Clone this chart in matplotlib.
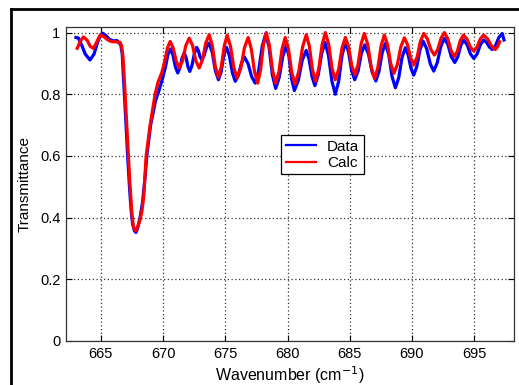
import matplotlib
matplotlib.use("Agg")
import matplotlib.pyplot as plt
from matplotlib.lines import Line2D

plt.rcParams['font.family'] = ['Liberation Sans', 'DejaVu Sans']

data_wn = [663.0, 663.2, 663.45, 663.75, 664.13, 664.45, 664.75, 665.0, 665.15, 665.4,
           665.7, 666.0, 666.3, 666.5, 666.6, 666.72, 666.82, 666.92, 667.05, 667.18,
           667.3, 667.42, 667.55, 667.7, 667.82, 667.95, 668.15, 668.35, 668.55, 668.72,
           669.0, 669.4, 669.66, 669.95, 670.2, 670.4, 670.6,
           670.79, 670.99, 671.18, 671.35, 671.53, 671.7, 671.85, 672.0, 672.15, 672.33,
           672.52, 672.7, 672.83, 672.97, 673.1, 673.3, 673.5, 673.7, 673.95, 674.2,
           674.45, 674.67, 674.88, 675.1, 675.33, 675.57, 675.8, 676.05, 676.3, 676.55,
           676.83, 677.12, 677.4, 677.68, 677.97, 678.25, 678.52, 678.78, 679.05, 679.33,
           679.62, 679.9, 680.12, 680.33, 680.55, 680.87, 681.18, 681.5, 681.73, 681.97,
           682.2, 682.47, 682.75, 683.02, 683.29, 683.57, 683.84, 684.11, 684.38, 684.65,
           684.9, 685.15, 685.4, 685.67, 685.93, 686.2, 686.5, 686.8, 687.1, 687.35,
           687.61, 687.86, 688.13, 688.4, 688.67, 688.94, 689.2, 689.47, 689.69, 689.92,
           690.14, 690.39, 690.65, 690.9, 691.18, 691.47, 691.75, 692.03, 692.32, 692.6,
           692.88, 693.16, 693.44, 693.68, 693.92, 694.16, 694.43, 694.7, 694.97, 695.24,
           695.5, 695.77, 696.0, 696.22, 696.45, 696.72, 696.98, 697.25, 697.4]
data_tr = [0.984, 0.982, 0.960, 0.930, 0.911, 0.930, 0.970, 0.993, 0.998, 0.990,
           0.978, 0.973, 0.974, 0.965, 0.960, 0.930, 0.850, 0.780, 0.680, 0.580,
           0.500, 0.430, 0.380, 0.357, 0.352, 0.365, 0.400, 0.450, 0.530, 0.610,
           0.700, 0.780, 0.810, 0.850, 0.890, 0.930, 0.947,
           0.928, 0.889, 0.869, 0.885, 0.918, 0.934, 0.919, 0.889, 0.874, 0.894,
           0.933, 0.952, 0.942, 0.922, 0.912, 0.926, 0.953, 0.966, 0.936, 0.877,
           0.847, 0.873, 0.926, 0.952, 0.925, 0.870, 0.842, 0.862, 0.901, 0.920,
           0.899, 0.857, 0.836, 0.876, 0.956, 0.996, 0.952, 0.863, 0.819, 0.854,
           0.923, 0.958, 0.922, 0.849, 0.812, 0.845, 0.910, 0.942, 0.914, 0.857,
           0.828, 0.863, 0.933, 0.968, 0.926, 0.842, 0.800, 0.842, 0.926, 0.968,
           0.938, 0.877, 0.847, 0.875, 0.932, 0.960, 0.931, 0.872, 0.843, 0.874,
           0.935, 0.965, 0.929, 0.857, 0.821, 0.854, 0.919, 0.951, 0.929, 0.884,
           0.862, 0.890, 0.945, 0.972, 0.948, 0.899, 0.875, 0.902, 0.955, 0.981,
           0.962, 0.922, 0.903, 0.921, 0.958, 0.976, 0.961, 0.931, 0.916, 0.931,
           0.961, 0.976, 0.968, 0.953, 0.945, 0.958, 0.984, 0.997, 0.976]

# model spectrum (Calc)
calc_wn = [663.1, 663.35, 663.6, 663.9, 664.15, 664.4, 664.65, 664.94, 665.2, 665.5,
           665.75, 666.0, 666.3, 666.55, 666.68, 666.78, 666.87, 666.95, 667.08, 667.21,
           667.32, 667.42, 667.5, 667.62, 667.8, 667.95, 668.1, 668.3, 668.45, 668.64,
           668.96, 669.36, 669.6, 669.9, 670.15, 670.35, 670.57,
           670.81, 671.06, 671.3, 671.57, 671.83, 672.1, 672.37, 672.63, 672.9, 673.17,
           673.43, 673.7, 673.95, 674.2, 674.45, 674.68, 674.92, 675.15, 675.42, 675.68,
           675.95, 676.25, 676.54, 676.84, 677.09, 677.35, 677.6, 677.83, 678.06, 678.29,
           678.54, 678.8, 679.05, 679.31, 679.56, 679.82, 680.08, 680.34, 680.6, 680.9,
           681.21, 681.51, 681.76, 682.0, 682.25, 682.51, 682.78, 683.04, 683.31, 683.57,
           683.84, 684.11, 684.38, 684.65, 684.91, 685.16, 685.42, 685.67, 685.92, 686.17,
           686.45, 686.72, 687.0, 687.26, 687.52, 687.78, 688.04, 688.29, 688.55, 688.83,
           689.11, 689.39, 689.64, 689.9, 690.15, 690.42, 690.68, 690.95, 691.23, 691.52,
           691.8, 692.07, 692.34, 692.61, 692.87, 693.14, 693.4, 693.65, 693.89, 694.14,
           694.42, 694.69, 694.97, 695.23, 695.49, 695.75, 696.07, 696.38, 696.7, 696.88,
           697.05]
calc_tr = [0.949, 0.972, 0.986, 0.975, 0.955, 0.949, 0.968, 0.992, 0.988, 0.978,
           0.972, 0.970, 0.970, 0.968, 0.955, 0.920, 0.860, 0.800, 0.700, 0.603,
           0.520, 0.460, 0.410, 0.370, 0.357, 0.370, 0.385, 0.420, 0.470, 0.600,
           0.700, 0.800, 0.840, 0.870, 0.910, 0.950, 0.971,
           0.950, 0.907, 0.885, 0.909, 0.958, 0.982, 0.958, 0.909, 0.885, 0.912,
           0.966, 0.993, 0.959, 0.890, 0.855, 0.889, 0.957, 0.991, 0.956, 0.887,
           0.852, 0.885, 0.951, 0.984, 0.947, 0.873, 0.836, 0.877, 0.959, 1.000,
           0.959, 0.877, 0.836, 0.873, 0.947, 0.984, 0.946, 0.871, 0.833, 0.873,
           0.953, 0.993, 0.955, 0.880, 0.842, 0.882, 0.961, 1.000, 0.962, 0.885,
           0.847, 0.881, 0.950, 0.984, 0.954, 0.893, 0.863, 0.897, 0.964, 0.997,
           0.961, 0.888, 0.851, 0.886, 0.957, 0.992, 0.961, 0.899, 0.868, 0.897,
           0.954, 0.983, 0.961, 0.917, 0.895, 0.921, 0.972, 0.997, 0.980, 0.945,
           0.927, 0.945, 0.982, 1.000, 0.981, 0.942, 0.922, 0.940, 0.975, 0.992,
           0.979, 0.953, 0.940, 0.953, 0.979, 0.992, 0.980, 0.957, 0.945, 0.955,
           0.970]

x_ticks = [665, 670, 675, 680, 685, 690, 695]
y_ticks = [0, 0.2, 0.4, 0.6, 0.8, 1]
y_tick_labels = ['0', '0.2', '0.4', '0.6', '0.8', '1']

fig = plt.figure(figsize=(5.19, 3.85), dpi=100)
ax = fig.add_axes([66 / 519, 1 - 341 / 385, 448 / 519, 314 / 385])

ax.plot(data_wn, data_tr, color=(0, 0, 1), lw=2.3, label='Data')
ax.plot(calc_wn, calc_tr, color=(1, 0, 0), lw=2.3, label='Calc')

ax.set_xlim(662.2, 698.2)
ax.set_ylim(0, 1.018)
ax.set_xticks(x_ticks)
ax.set_yticks(y_ticks)
ax.set_yticklabels(y_tick_labels)
ax.tick_params(direction='in', length=4, width=0.8, labelsize=10.5, pad=4,
               top=True, right=True)
ax.grid(True, color='#333333', linestyle=(0, (1, 2)), linewidth=0.9)
for sp in ax.spines.values():
    sp.set_linewidth(0.9)
    sp.set_color('#333333')

ax.set_xlabel('Wavenumber (cm$^{-1}$)', fontsize=11.5, labelpad=3)
ax.set_ylabel('Transmittance', fontsize=11, labelpad=6)

leg = ax.legend(loc='upper left', bbox_to_anchor=(0.48, 0.656), borderaxespad=0,
                fontsize=11, fancybox=False, edgecolor='black', framealpha=1,
                handlelength=2.0, handletextpad=0.7, borderpad=0.3, labelspacing=0.15)
leg.get_frame().set_linewidth(0.9)
for h in leg.get_lines():
    h.set_linewidth(1.6)

# outer frame (top and left edges of a cropped border)
fig.add_artist(Line2D([11 / 519, 1], [1 - 9 / 385, 1 - 9 / 385], color='black', lw=2,
                      transform=fig.transFigure))
fig.add_artist(Line2D([11 / 519, 11 / 519], [0, 1 - 9 / 385], color='black', lw=2,
                      transform=fig.transFigure))

fig.savefig('out.png', dpi=100)
